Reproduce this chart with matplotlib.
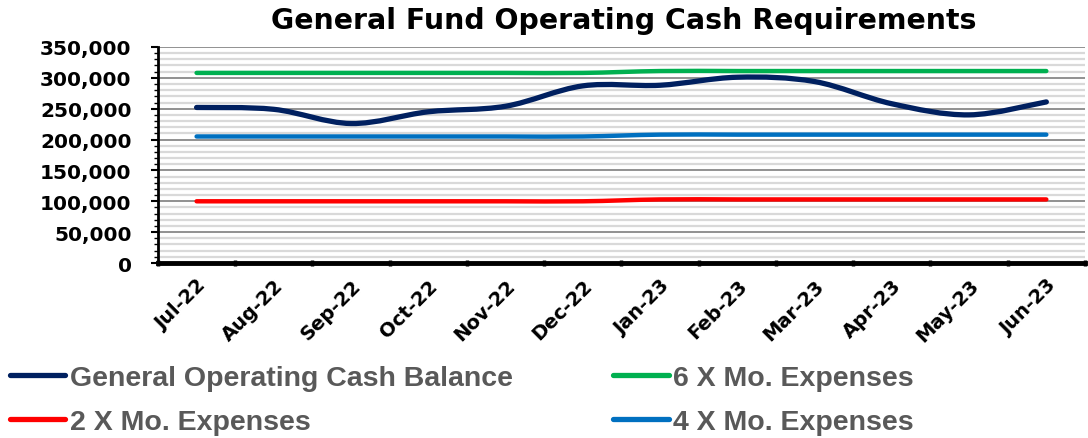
import numpy as np
import matplotlib.pyplot as plt
from matplotlib.path import Path
from matplotlib.patches import PathPatch
from matplotlib.lines import Line2D
from matplotlib.ticker import MultipleLocator, FuncFormatter

months = ['Jul-22', 'Aug-22', 'Sep-22', 'Oct-22', 'Nov-22', 'Dec-22',
          'Jan-23', 'Feb-23', 'Mar-23', 'Apr-23', 'May-23', 'Jun-23']
cash_balance = [252000, 249000, 226000, 245000, 254000, 287000,
                288000, 301000, 294000, 258000, 240000, 261000]
six_mo = [308000] * 6 + [311000] * 6
four_mo = [205000] * 6 + [208000] * 6
two_mo = [100000] * 6 + [103000] * 6

series = [
    ('General Operating Cash Balance', cash_balance, '#002060', 3.8),
    ('2 X Mo. Expenses', two_mo, '#FF0000', 3.2),
    ('6 X Mo. Expenses', six_mo, '#00B050', 3.2),
    ('4 X Mo. Expenses', four_mo, '#0070C0', 3.2),
]


def smooth_path(xs, ys):
    # excel style smoothed line, bezier through the points
    p = np.column_stack([xs, ys]).astype(float)
    n = len(p)
    verts = [p[0]]
    codes = [Path.MOVETO]
    for i in range(n - 1):
        p0 = p[i - 1] if i > 0 else p[i]
        p3 = p[i + 2] if i + 2 < n else p[i + 1]
        c1 = p[i] + (p[i + 1] - p0) / 6
        c2 = p[i + 1] - (p3 - p[i]) / 6
        verts += [c1, c2, p[i + 1]]
        codes += [Path.CURVE4] * 3
    return Path(verts, codes)


fig = plt.figure(figsize=(10.88, 4.39), dpi=100)
ax = fig.add_axes([0.1452, 0.3986, 0.852, 0.4921])

x = np.arange(len(months))
order = [2, 3, 1, 0]  # drawing order, cash balance on top
for k in order:
    name, vals, col, lw = series[k]
    ax.add_patch(PathPatch(smooth_path(x, vals), fill=False, edgecolor=col,
                           lw=lw, capstyle='round', joinstyle='round', zorder=3))

ax.set_xlim(-0.5, 11.5)
ax.set_ylim(0, 350000)
ax.yaxis.set_major_locator(MultipleLocator(50000))
ax.yaxis.set_minor_locator(MultipleLocator(10000))
ax.yaxis.set_major_formatter(FuncFormatter(lambda v, p: f'{int(v):,}'))
ax.grid(which='minor', axis='y', color='#d9d9d9', lw=1.6)
ax.grid(which='major', axis='y', color='#7f7f7f', lw=1.2)
ax.set_axisbelow(True)

ax.set_xticks(x)
ax.set_xticklabels(months, rotation=45, ha='right', rotation_mode='anchor',
                   fontsize=14, fontweight='bold', family='DejaVu Sans')
ax.set_xticks(np.arange(-0.5, 12, 1), minor=True)
ax.tick_params(axis='x', which='major', length=0, pad=9)
ax.tick_params(axis='x', which='minor', length=5, width=2.5, direction='inout')
ax.tick_params(axis='y', which='major', length=5, width=1.5, direction='out', pad=14)
ax.tick_params(axis='y', which='minor', length=3, width=1, direction='out')
for lab in ax.get_yticklabels():
    lab.set_fontsize(14.5)
    lab.set_fontweight('bold')
    lab.set_family('DejaVu Sans')

ax.spines['top'].set_visible(False)
ax.spines['right'].set_visible(False)
ax.spines['left'].set_linewidth(2)
ax.spines['bottom'].set_linewidth(3.5)

fig.text(0.573, 0.952, 'General Fund Operating Cash Requirements', ha='center',
         va='center', fontsize=20.4, fontweight='bold', family='DejaVu Sans')

handles = [Line2D([], [], color=s[2], lw=3.8, solid_capstyle='round') for s in series]
labels = [s[0] for s in series]
fig.legend(handles, labels, ncol=2, loc='upper left', bbox_to_anchor=(-0.004, 0.198),
           frameon=False, borderpad=0, handlelength=1.95, handletextpad=0.15,
           columnspacing=3.54, labelspacing=0.62, labelcolor='#595959',
           prop={'family': 'Liberation Sans', 'weight': 'bold', 'size': 20.5})

fig.savefig('out.png', dpi=100)
